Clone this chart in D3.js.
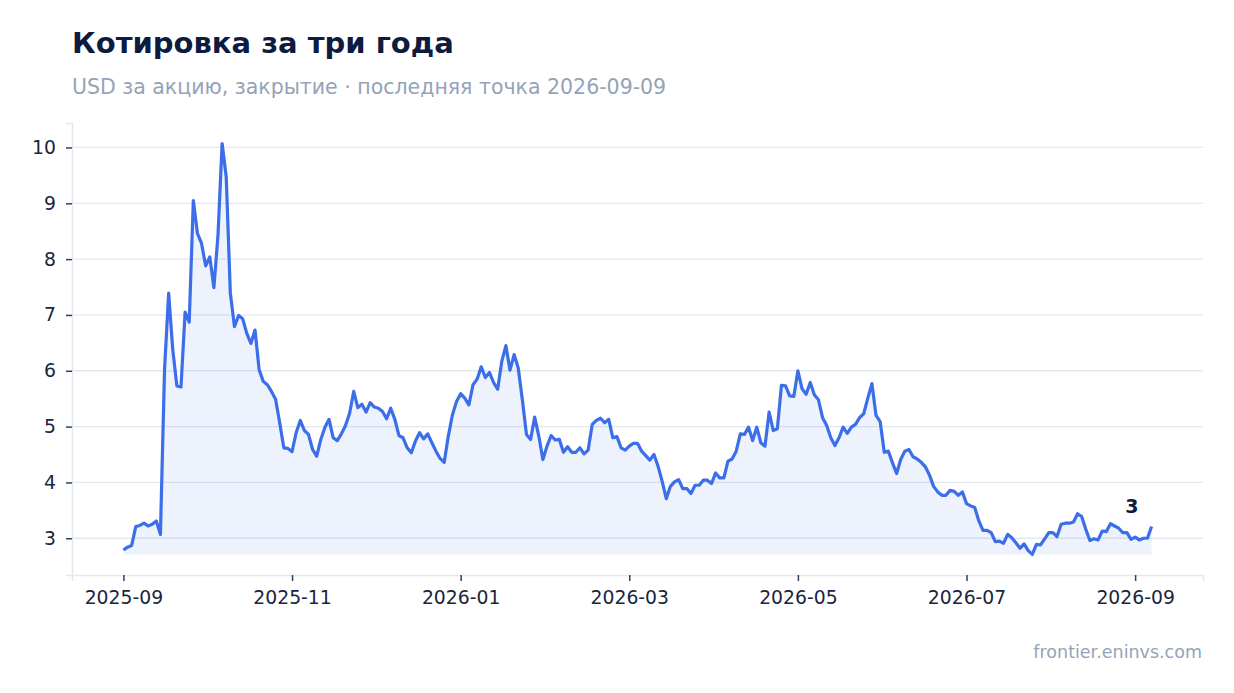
<!DOCTYPE html>
<html>
<head>
<meta charset="utf-8">
<script src="https://cdn.jsdelivr.net/npm/d3@7"></script>
<style>
  body { margin: 0; background: #fff; }
  text { font-family: "DejaVu Sans", sans-serif; }
</style>
</head>
<body>
<script>
// chart data
var title = "Котировка за три года";
var subtitle = "USD за акцию, закрытие · последняя точка 2026-09-09";
var source = "frontier.eninvs.com";
var firstDate = "2025-09-01";
var lastDate = "2026-09-09";
var yTicks = [3, 4, 5, 6, 7, 8, 9, 10];
// x ticks sit on every 41st point
var xTickIdx = [0, 41, 82, 123, 164, 205, 246];

var prices = [
  2.79, 2.84, 2.87, 3.21, 3.23, 3.27, 3.22, 3.25, 3.31, 3.07,
  6.02, 7.39, 6.38, 5.73, 5.71, 7.05, 6.87, 9.05, 8.46, 8.28,
  7.88, 8.04, 7.49, 8.43, 10.07, 9.47, 7.39, 6.79, 6.99, 6.93,
  6.67, 6.49, 6.73, 6.02, 5.81, 5.75, 5.63, 5.49, 5.07, 4.62,
  4.61, 4.55, 4.89,
  5.11, 4.93, 4.86, 4.59, 4.47, 4.77, 4.99, 5.13, 4.80, 4.75,
  4.87, 5.02, 5.24, 5.63, 5.34, 5.40, 5.26, 5.43, 5.35, 5.33,
  5.27, 5.14, 5.33, 5.13, 4.84, 4.80, 4.62, 4.53, 4.74, 4.89,
  4.78, 4.87, 4.71, 4.56, 4.43, 4.36, 4.83, 5.21, 5.45, 5.59,
  5.51, 5.39, 5.75, 5.85,
  6.07, 5.88, 5.97, 5.79, 5.67, 6.17, 6.45, 6.01, 6.29, 6.05,
  5.48, 4.86, 4.77, 5.17, 4.83, 4.41, 4.65, 4.84, 4.76, 4.77,
  4.54, 4.64, 4.54, 4.54, 4.62, 4.51, 4.58, 5.04, 5.11, 5.15,
  5.07, 5.13, 4.80, 4.82, 4.62, 4.58, 4.65, 4.70, 4.70, 4.56,
  4.48, 4.40, 4.50, 4.29, 4.02, 3.71, 3.93, 4.01, 4.05, 3.89,
  3.89, 3.80, 3.95, 3.95, 4.04, 4.04, 3.98, 4.17, 4.08, 4.08,
  4.38, 4.42, 4.56, 4.87, 4.86, 4.99, 4.75, 4.99, 4.71, 4.65,
  5.26, 4.93, 4.96, 5.74, 5.73, 5.55, 5.54, 6.00, 5.68, 5.58,
  5.79, 5.57, 5.48, 5.16, 5.02, 4.80, 4.66, 4.80,
  4.99, 4.88, 4.99, 5.04, 5.16, 5.23, 5.51, 5.77, 5.20, 5.09,
  4.54, 4.56, 4.35, 4.16, 4.41, 4.56, 4.59, 4.46, 4.42, 4.36,
  4.28, 4.13, 3.93, 3.83, 3.77, 3.77, 3.86, 3.84, 3.77, 3.83,
  3.62, 3.58, 3.55, 3.31, 3.14, 3.14, 3.10, 2.94, 2.95, 2.91,
  3.07, 3.01, 2.92, 2.82, 2.90,
  2.78, 2.71, 2.89, 2.88, 2.99, 3.10, 3.10, 3.03, 3.25, 3.27,
  3.27, 3.29, 3.44, 3.39, 3.16, 2.96, 2.99, 2.97, 3.13, 3.12,
  3.26, 3.22, 3.18, 3.10, 3.10, 2.98, 3.02, 2.97, 3.00, 3.00,
  3.21
];

var width = 1234, height = 693;
var margin = { top: 123, right: 31, bottom: 118, left: 72 };
var lineColor = "#3b6ee8";

// points are spread evenly between first and last date
var t0 = new Date(firstDate + "T00:00:00Z"), t1 = new Date(lastDate + "T00:00:00Z");
var idxToDate = d3.scaleLinear().domain([0, prices.length - 1]).range([t0, t1]);
var data = prices.map(function (v, i) { return { date: new Date(+idxToDate(i)), value: v }; });

var svg = d3.select("body").append("svg")
  .attr("width", width)
  .attr("height", height);

var spanT = t1 - t0;
var x = d3.scaleUtc()
  .domain([new Date(+t0 - spanT * 0.05), new Date(+t1 + spanT * 0.05)])
  .range([margin.left, width - margin.right]);

var ext = d3.extent(prices);
var pad = (ext[1] - ext[0]) * 0.05;
var y = d3.scaleLinear()
  .domain([ext[0] - pad, ext[1] + pad])
  .range([height - margin.bottom, margin.top]);

// titles
svg.append("text")
  .attr("x", 72).attr("y", 53)
  .attr("font-size", 29).attr("font-weight", "bold")
  .attr("fill", "#0d1b3e")
  .text(title);

svg.append("text")
  .attr("x", 72).attr("y", 94)
  .attr("font-size", 20.5)
  .attr("fill", "#94a3b8")
  .text(subtitle);

// grid
svg.append("g")
  .selectAll("line")
  .data(yTicks)
  .enter().append("line")
  .attr("x1", margin.left).attr("x2", width - margin.right)
  .attr("y1", function (d) { return y(d); })
  .attr("y2", function (d) { return y(d); })
  .attr("stroke", "#e2e8f0")
  .attr("stroke-width", 1.3);

// area + line
var area = d3.area()
  .x(function (d) { return x(d.date); })
  .y0(y(ext[0]))
  .y1(function (d) { return y(d.value); });

var line = d3.line()
  .x(function (d) { return x(d.date); })
  .y(function (d) { return y(d.value); });

svg.append("path")
  .datum(data)
  .attr("d", area)
  .attr("fill", lineColor)
  .attr("fill-opacity", 0.09);

svg.append("path")
  .datum(data)
  .attr("d", line)
  .attr("fill", "none")
  .attr("stroke", lineColor)
  .attr("stroke-width", 3.2)
  .attr("stroke-linejoin", "round");

// axes
var xAxis = svg.append("g")
  .attr("transform", "translate(0," + (height - margin.bottom) + ")")
  .call(d3.axisBottom(x)
    .tickValues(xTickIdx.map(function (i) { return data[i].date; }))
    .tickFormat(d3.utcFormat("%Y-%m"))
    .tickSizeOuter(0)
    .tickSize(6)
    .tickPadding(10));

var yAxis = svg.append("g")
  .attr("transform", "translate(" + margin.left + ",0)")
  .call(d3.axisLeft(y)
    .tickValues(yTicks)
    .tickFormat(d3.format("d"))
    .tickSizeOuter(0)
    .tickSize(6)
    .tickPadding(10));

[xAxis, yAxis].forEach(function (g) {
  g.select(".domain").attr("stroke", "#e2e8f0").attr("stroke-width", 1.5);
  g.selectAll(".tick line").attr("stroke", "#334155").attr("stroke-width", 1.5);
  g.selectAll(".tick text")
    .attr("font-size", 18.8)
    .attr("font-family", "DejaVu Sans, sans-serif")
    .attr("fill", "#1a2540");
});

// last value label
var last = data[data.length - 1];
svg.append("text")
  .attr("x", x(last.date) - 13)
  .attr("y", y(last.value) - 14)
  .attr("text-anchor", "end")
  .attr("font-size", 19).attr("font-weight", "bold")
  .attr("fill", "#0d1b3e")
  .text(d3.format(".0f")(last.value));

// source
svg.append("text")
  .attr("x", 1202).attr("y", 658)
  .attr("text-anchor", "end")
  .attr("font-size", 17.5)
  .attr("fill", "#94a3b8")
  .text(source);
</script>
</body>
</html>
